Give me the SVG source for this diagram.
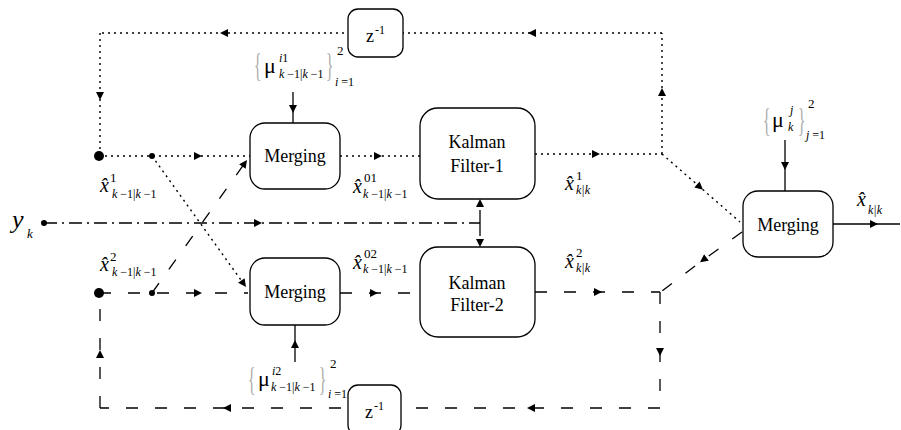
<svg xmlns="http://www.w3.org/2000/svg" width="901" height="430" viewBox="0 0 901 430" font-family="'Liberation Serif', 'Times New Roman', 'DejaVu Serif', serif">
<style>
.b{fill:#fff;stroke:#000;stroke-width:1.3}
.dot{fill:none;stroke:#000;stroke-width:1.4;stroke-dasharray:2 4}
.dsh{fill:none;stroke:#000;stroke-width:1.3;stroke-dasharray:12 17}
.dd{fill:none;stroke:#000;stroke-width:1.3;stroke-dasharray:13 5 2 5}
.sol{fill:none;stroke:#000;stroke-width:1.3}
.mid{marker-mid:url(#a)}
.end{marker-end:url(#a)}
.tx{font-family:'Liberation Serif','Times New Roman','DejaVu Serif',serif;fill:#000}
.lbl{font-size:18px;text-anchor:middle}
.i{font-style:italic}
.xh{font-size:20px;font-style:italic}
.sp{font-size:13px}
.sb{font-size:12px}
.br{fill:#aaa}
</style>
<defs>
<marker id="a" viewBox="0 0 10 10" refX="10" refY="5" markerWidth="9" markerHeight="8" markerUnits="userSpaceOnUse" orient="auto"><path d="M0,0L10,5L0,10z" fill="#000"/></marker>
</defs>
<g id="connectors">
<path class="dot mid" d="M662,154 L662,88 L662,33"/>
<path class="dot mid" d="M662,33 L528,33 L220,33 L100,33"/>
<path class="dot mid" d="M100,33 L100,100 L100,156"/>
<path class="dot mid" d="M99,156 L202,156 L250,156"/>
<path class="dot end" d="M152,156 L246,287"/>
<path class="dot mid" d="M340,156 L382,156 L420,156"/>
<path class="dot mid" d="M535,154 L600,154 L662,154"/>
<path class="dot mid" d="M662,154 L703,189.7 L740,222"/>
<path class="dsh mid" d="M660,292 L660,356 L660,408"/>
<path class="dsh mid" d="M660,408 L527,408 L223,408 L100,408"/>
<path class="dsh mid" d="M100,408 L100,350 L100,293"/>
<path class="dsh mid" d="M99,293 L202,293 L248,293"/>
<path class="dsh end" d="M152,293 L247,160"/>
<path class="dsh mid" d="M340,293 L378,293 L420,293"/>
<path class="dsh mid" d="M535,292 L602,292 L660,292"/>
<path class="dsh mid" d="M742,232 L700,262.3 L662,291"/>
<path class="dd mid" d="M44,223 L262,223 L480,223"/>
<path class="dd end" d="M480,223 L480,199"/>
<path class="dd end" d="M480,223 L480,247"/>
<path class="sol mid" d="M293,92 L293,113 L293,123"/>
<path class="sol mid" d="M785,140 L785,170 L785,191"/>
<path class="sol mid" d="M295,362 L295,340 L295,325"/>
<path class="sol mid" d="M833,224 L878,224 L900,224"/>
<circle cx="99" cy="156" r="5"/>
<circle cx="99" cy="293" r="5"/>
<circle cx="152" cy="156" r="3"/>
<circle cx="152" cy="293" r="3"/>
<circle cx="44" cy="223" r="3"/>
</g>
<g id="delay1" class="tx">
<rect class="b" x="348" y="9" width="55" height="48" rx="10"/>
<text x="366" y="42" font-size="18">z</text><text x="375" y="34" font-size="12">-1</text>
</g>
<g id="delay2" class="tx">
<rect class="b" x="348" y="385" width="53" height="50" rx="10"/>
<text x="365" y="418" font-size="18">z</text><text x="374" y="410" font-size="12">-1</text>
</g>
<g id="merging1" class="tx">
<rect class="b" x="250" y="123" width="90" height="66" rx="15"/>
<text class="lbl" x="295" y="162">Merging</text>
</g>
<g id="merging2" class="tx">
<rect class="b" x="250" y="258" width="90" height="67" rx="15"/>
<text class="lbl" x="295" y="298">Merging</text>
</g>
<g id="kf1" class="tx">
<rect class="b" x="420" y="108" width="115" height="91" rx="18"/>
<text class="lbl" x="477" y="148">Kalman</text>
<text class="lbl" x="477" y="172">Filter-1</text>
</g>
<g id="kf2" class="tx">
<rect class="b" x="420" y="247" width="115" height="90" rx="18"/>
<text class="lbl" x="477" y="289">Kalman</text>
<text class="lbl" x="477" y="311">Filter-2</text>
</g>
<g id="merging3" class="tx">
<rect class="b" x="743" y="191" width="90" height="66" rx="15"/>
<text class="lbl" x="788" y="231">Merging</text>
</g>
<g id="labels" class="tx">
<text x="12" y="228" font-size="26" class="i">y</text><text x="27" y="238" font-size="13" class="i">k</text>
<text class="xh" x="100" y="192">x̂</text><text class="sp" x="110" y="182">1</text>
<text class="sb" x="112" y="198"><tspan class="i">k</tspan> −1|<tspan class="i">k</tspan> −1</text>
<text class="xh" x="100" y="271">x̂</text><text class="sp" x="110" y="261">2</text>
<text class="sb" x="112" y="276"><tspan class="i">k</tspan> −1|<tspan class="i">k</tspan> −1</text>
<text class="xh" x="353" y="193">x̂</text><text class="sp" x="364" y="182">01</text>
<text class="sb" x="363" y="198"><tspan class="i">k</tspan> −1|<tspan class="i">k</tspan> −1</text>
<text class="xh" x="353" y="269">x̂</text><text class="sp" x="364" y="258">02</text>
<text class="sb" x="363" y="273"><tspan class="i">k</tspan> −1|<tspan class="i">k</tspan> −1</text>
<text class="xh" x="565" y="190">x̂</text><text class="sp" x="576" y="180">1</text>
<text class="sb i" x="576" y="194">k|k</text>
<text class="xh" x="565" y="268">x̂</text><text class="sp" x="576" y="257">2</text>
<text class="sb i" x="576" y="272">k|k</text>
<text class="xh" x="857" y="206">x̂</text>
<text class="sb i" x="868" y="214">k|k</text>
<text class="br" font-size="22" transform="translate(254,76) scale(0.7,1.5)">{</text>
<text x="264" y="73" font-size="22">μ</text>
<text class="sb" x="279" y="62"><tspan class="i">i</tspan>1</text>
<text class="sb" x="279" y="78"><tspan class="i">k</tspan> −1|<tspan class="i">k</tspan> −1</text>
<text class="br" font-size="22" transform="translate(326,76) scale(0.7,1.5)">}</text>
<text class="sp" x="337" y="55">2</text>
<text class="sb" x="335" y="86"><tspan class="i">i</tspan> =1</text>
<text class="br" font-size="22" transform="translate(248,390) scale(0.7,1.5)">{</text>
<text x="258" y="386" font-size="22">μ</text>
<text class="sb" x="272" y="375"><tspan class="i">i</tspan>2</text>
<text class="sb" x="271" y="391"><tspan class="i">k</tspan> −1|<tspan class="i">k</tspan> −1</text>
<text class="br" font-size="22" transform="translate(319,390) scale(0.7,1.5)">}</text>
<text class="sp" x="330" y="368">2</text>
<text class="sb" x="328" y="398"><tspan class="i">i</tspan> =1</text>
<text class="br" font-size="22" transform="translate(763,131) scale(0.7,1.5)">{</text>
<text x="772" y="127" font-size="22">μ</text>
<text class="sb i" x="790" y="114">j</text>
<text class="sb i" x="788" y="131">k</text>
<text class="br" font-size="22" transform="translate(798,131) scale(0.7,1.5)">}</text>
<text class="sp" x="808" y="108">2</text>
<text class="sb" x="806" y="139"><tspan class="i">j</tspan> =1</text>
</g>
</svg>
